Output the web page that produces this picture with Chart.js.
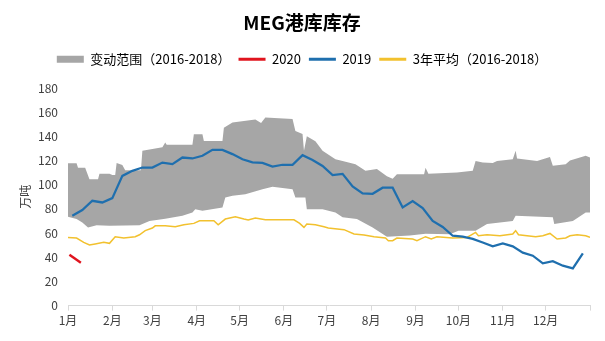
<!DOCTYPE html>
<html>
<head>
<meta charset="utf-8">
<title>MEG港库库存</title>
<script src="https://cdn.jsdelivr.net/npm/chart.js@4/dist/chart.umd.min.js"></script>
<style>
  body { margin: 0; background: #fff; }
  #wrap { width: 605px; height: 341px; }
</style>
</head>
<body>
<div id="wrap"><canvas id="chart" width="605" height="341"></canvas></div>
<script>
// ==============================
// DATOS (día del año -> 万吨)
// ==============================
const monthTicks = [0, 31, 59, 90, 120, 151, 181, 212, 243, 273, 304, 334, 365];
const monthLabels = ["1月", "2月", "3月", "4月", "5月", "6月", "7月", "8月", "9月", "10月", "11月", "12月", ""];

// Banda 2016-2018: borde superior
const upperDays = [0, 6, 7, 12, 15, 21, 22, 29, 31, 33, 34, 38, 40, 51, 52, 66, 68, 69, 87, 88, 94, 95, 108, 109, 115, 131, 135, 138, 157, 159, 164, 165, 167, 173, 178, 187, 192, 201, 208, 216, 223, 227, 230, 249, 250, 252, 272, 283, 285, 290, 297, 300, 311, 313, 314, 328, 337, 339, 348, 351, 362, 365];
const upperVals = [117.8, 117.8, 114, 114, 104.6, 104.6, 109, 109, 108, 108, 118, 116.4, 112, 112, 128, 131, 135, 133, 133, 141.8, 141.8, 136.2, 136.2, 147.2, 151.4, 154, 151, 155.5, 154.4, 144.5, 142, 128, 140, 136, 128, 121, 119.7, 117, 111.5, 113, 107, 105, 108.7, 108.7, 114, 109, 110, 111.5, 119.7, 118.3, 118, 119.7, 121, 128, 121.7, 119.7, 123, 115.6, 117, 120, 123.9, 122.5];

// Banda 2016-2018: borde inferior
const lowerDays = [0, 6, 10, 14, 20, 29, 50, 57, 68, 80, 87, 89, 94, 108, 110, 115, 124, 136, 143, 157, 159, 166, 167, 178, 187, 192, 202, 213, 223, 239, 250, 267, 273, 285, 293, 311, 313, 339, 340, 353, 362, 365];
const lowerVals = [73.5, 71.6, 68.8, 64.7, 66.5, 66, 66.5, 70, 71.8, 74.3, 77, 79.8, 78.4, 81.2, 89.4, 90.8, 92.2, 96.3, 98.3, 96.3, 89.4, 89.4, 79.8, 79.8, 77, 73, 71.6, 64.7, 57, 58, 59.5, 59, 62, 62, 67.5, 70, 74.3, 73, 67.5, 70, 77, 77];

// 2020
const days2020 = [1, 9];
const vals2020 = [42, 35.5];

// 2019 (semanal)
const days2019 = [3, 10, 17, 24, 31, 38, 45, 52, 59, 66, 73, 80, 87, 94, 101, 108, 115, 122, 129, 136, 143, 150, 157, 164, 171, 178, 185, 192, 199, 206, 213, 220, 227, 234, 241, 248, 255, 262, 269, 276, 283, 290, 297, 304, 311, 318, 325, 332, 339, 346, 353, 360];
const vals2019 = [74.3, 79, 86.7, 85.3, 88.9, 107.3, 111.5, 114.2, 114.2, 118.3, 117, 122.5, 121.7, 123.9, 128.8, 128.8, 125.3, 121, 118.5, 118, 115, 116.5, 116.5, 124.4, 120.5, 115.5, 108, 109, 98.5, 92.8, 92.5, 97.5, 97.5, 81.2, 86.5, 80.7, 70, 65, 57.8, 57, 55.2, 52.2, 49, 51.5, 49, 43.8, 41.3, 35, 36.8, 33, 30.8, 43.3];

// Promedio 3 años (2016-2018)
const avgDays = [0, 6, 11, 15, 19, 25, 29, 33, 39, 47, 50, 54, 59, 61, 68, 75, 81, 88, 92, 102, 105, 110, 117, 123, 126, 131, 138, 158, 162, 165, 167, 173, 179, 182, 193, 200, 207, 214, 222, 224, 227, 230, 241, 244, 250, 254, 258, 269, 279, 285, 287, 293, 302, 311, 313, 315, 327, 332, 337, 342, 348, 351, 356, 362, 365];
const avgVals = [56.4, 55.9, 52.3, 50.1, 51, 52.3, 51.5, 57, 55.9, 57, 58.6, 62, 64.2, 66, 66, 65.2, 66.9, 68, 70.2, 70.2, 66.9, 71.6, 73.5, 71.6, 70.8, 72.4, 71, 71, 68, 64.7, 67.5, 66.9, 65.2, 64.2, 62.8, 59.2, 58.4, 57, 55.9, 53.7, 53.7, 55.9, 55.1, 53.7, 57, 55.1, 57, 55.9, 56.4, 60.5, 57.8, 58.6, 57.8, 59.2, 62, 58.6, 57, 57.8, 59.7, 55.1, 55.9, 57.8, 58.6, 57.8, 56.4];

// Colores
const GRAY = "#a6a6a6";
const RED = "#e0141e";
const BLUE = "#1f6fae";
const YELLOW = "#f2c12e";

function toPoints(xs, ys) {
  return xs.map((x, i) => ({ x: x, y: ys[i] }));
}

Chart.defaults.font.family = "'Noto Sans CJK SC', 'Liberation Sans', sans-serif";
Chart.defaults.color = "#404040";

const ctx = document.getElementById("chart").getContext("2d");

new Chart(ctx, {
  type: "line",
  data: {
    datasets: [
      {
        label: "变动范围（2016-2018）",
        data: toPoints(upperDays, upperVals),
        borderColor: "transparent",
        borderWidth: 0,
        backgroundColor: GRAY,
        pointRadius: 0,
        fill: "+1",
      },
      {
        label: "min",
        data: toPoints(lowerDays, lowerVals),
        borderColor: "transparent",
        borderWidth: 0,
        pointRadius: 0,
        fill: false,
      },
      {
        label: "2020",
        data: toPoints(days2020, vals2020),
        borderColor: RED,
        borderWidth: 2.5,
        pointRadius: 0,
        fill: false,
      },
      {
        label: "2019",
        data: toPoints(days2019, vals2019),
        borderColor: BLUE,
        borderWidth: 2.25,
        pointRadius: 0,
        fill: false,
      },
      {
        label: "3年平均（2016-2018）",
        data: toPoints(avgDays, avgVals),
        borderColor: YELLOW,
        borderWidth: 1.5,
        pointRadius: 0,
        fill: false,
      },
    ],
  },
  options: {
    responsive: false,
    animation: false,
    layout: { padding: { left: 14, right: 15, top: 0, bottom: 10 } },
    scales: {
      x: {
        type: "linear",
        min: 0,
        max: 365,
        afterBuildTicks: (scale) => {
          scale.ticks = monthTicks.map((v) => ({ value: v }));
        },
        ticks: {
          autoSkip: false,
          maxRotation: 0,
          padding: 3,
          font: { size: 12 },
          callback: (value, index) => monthLabels[index] || "",
        },
        grid: {
          display: true,
          drawOnChartArea: false,
          drawTicks: true,
          tickLength: 5,
          color: "#d9d9d9",
        },
        border: { display: true, color: "#d9d9d9" },
      },
      y: {
        min: 0,
        max: 180,
        afterFit: (scale) => {
          scale.width = 54;
        },
        ticks: { stepSize: 20, padding: 10, font: { size: 12 } },
        grid: { display: false, drawTicks: false, tickLength: 0 },
        border: { display: false },
        title: {
          display: true,
          text: "万吨",
          font: { size: 12 },
          padding: { top: 4, bottom: 4 },
        },
      },
    },
    plugins: {
      filler: { drawTime: "beforeDatasetsDraw" },
      tooltip: { enabled: false },
      title: {
        display: true,
        text: "MEG港库库存",
        color: "#000",
        font: { size: 19, weight: "bold" },
        padding: { top: 11, bottom: 11 },
      },
      // espacio entre leyenda y gráfico
      subtitle: {
        display: true,
        text: " ",
        weight: 500,
        font: { size: 1 },
        padding: { top: 0, bottom: 11 },
      },
      legend: {
        position: "top",
        labels: {
          usePointStyle: true,
          pointStyleWidth: 27,
          boxHeight: 7,
          padding: 8,
          font: { size: 13 },
          generateLabels: (chart) => {
            const ds = chart.data.datasets;
            return [0, 2, 3, 4].map((i) => {
              const isBand = i === 0;
              const color = isBand ? GRAY : ds[i].borderColor;
              return {
                text: ds[i].label,
                datasetIndex: i,
                fillStyle: color,
                strokeStyle: color,
                lineWidth: isBand ? 0 : 3,
                pointStyle: isBand ? "rect" : "line",
                hidden: false,
              };
            });
          },
        },
      },
    },
  },
});
</script>
</body>
</html>
